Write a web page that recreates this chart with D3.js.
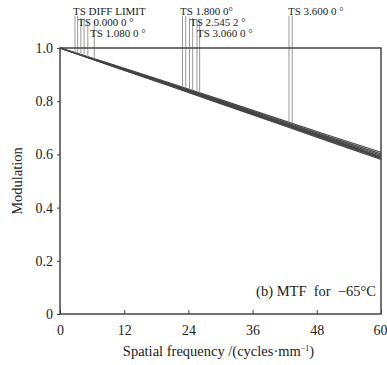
<!DOCTYPE html>
<html>
<head>
<meta charset="utf-8">
<script src="https://cdn.jsdelivr.net/npm/d3@7"></script>
<style>
  body { margin: 0; background: #fff; }
  svg { font-family: "Liberation Serif", "DejaVu Serif", serif; }
</style>
</head>
<body>
<div id="chart"></div>
<script>
// spatial frequency samples (cycles/mm)
const freqs = [0, 10, 20, 30, 40, 50, 60];

// modulation curves, tangential / sagittal per field
const diffLimit = [1.0, 0.937, 0.872, 0.806, 0.739, 0.673, 0.608];
const field0T   = [1.0, 0.935, 0.869, 0.802, 0.735, 0.668, 0.602];
const field1T   = [1.0, 0.934, 0.867, 0.800, 0.732, 0.664, 0.597];
const field1S   = [1.0, 0.933, 0.866, 0.798, 0.729, 0.660, 0.592];
const field2T   = [1.0, 0.932, 0.864, 0.795, 0.726, 0.657, 0.588];
const field2S   = [1.0, 0.931, 0.862, 0.793, 0.724, 0.654, 0.585];
const field3T   = [1.0, 0.933, 0.865, 0.797, 0.728, 0.659, 0.590];
const field4T   = [1.0, 0.930, 0.861, 0.791, 0.721, 0.651, 0.581];
const curves = [diffLimit, field0T, field1T, field1S, field2T, field2S, field3T, field4T];

// field labels and the frequencies where their marker lines drop
const labels = ["TS DIFF LIMIT", "TS 0.000 0 °", "TS 1.080 0 °", "TS 1.800 0°", "TS 2.545 2 °", "TS 3.060 0 °", "TS 3.600 0 °"];
const markerFreqs = [[2.8, 3.3], [3.9, 4.5], [5.2, 6.4], [22.9, 23.5], [24.2, 24.8], [25.6, 26.1], [42.8, 43.4]];
const labelRow = [0, 1, 2, 0, 1, 2, 0];

const xTicks = [0, 12, 24, 36, 48, 60];
const yTicks = [0, 0.2, 0.4, 0.6, 0.8, 1.0];

const width = 387, height = 365;
const margin = { top: 48, right: 6, bottom: 51, left: 60 };
const w = width - margin.left - margin.right;
const h = height - margin.top - margin.bottom;

const svg = d3.select('#chart').append('svg')
  .attr('width', width).attr('height', height);
const g = svg.append('g').attr('transform', `translate(${margin.left},${margin.top})`);

const x = d3.scaleLinear().domain([0, 60]).range([0, w]);
const y = d3.scaleLinear().domain([0, 1]).range([h, 0]);

// interpolate the diffraction curve to place marker lines on it
const modAt = d3.scaleLinear().domain(freqs).range(diffLimit);

// curves
const line = d3.line().x((d, i) => x(freqs[i])).y(d => y(d));
g.selectAll('.curve').data(curves).enter().append('path')
  .attr('fill', 'none')
  .attr('stroke', '#444')
  .attr('stroke-width', 1.2)
  .attr('d', line);

// marker lines from the labels down to the curves
labels.forEach((lab, i) => {
  const top = -32 + labelRow[i] * 2;
  markerFreqs[i].forEach(f => {
    g.append('line')
      .attr('x1', x(f)).attr('x2', x(f))
      .attr('y1', top).attr('y2', y(modAt(f)))
      .attr('stroke', '#999').attr('stroke-width', 1);
  });
});

// frame
g.append('rect').attr('width', w).attr('height', h)
  .attr('fill', 'none').attr('stroke', '#444').attr('stroke-width', 1.5);

// labels
const labelX = [13, 18, 30, 120, 130, 137, 228];
labels.forEach((lab, i) => {
  g.append('text')
    .attr('x', labelX[i])
    .attr('y', -33 + labelRow[i] * 11)
    .attr('font-size', 11)
    .attr('fill', '#222')
    .text(lab);
});

// axes
const xAxis = g.append('g').attr('transform', `translate(0,${h})`)
  .call(d3.axisBottom(x).tickValues(xTicks).tickSize(-4).tickPadding(11).tickFormat(d3.format('d')));
const yAxis = g.append('g')
  .call(d3.axisLeft(y).tickValues(yTicks).tickSize(3).tickPadding(4)
    .tickFormat(d => d === 0 ? '0' : d3.format('.1f')(d)));
[xAxis, yAxis].forEach(a => {
  a.select('.domain').remove();
  a.selectAll('line').attr('stroke', '#444');
  a.selectAll('text').attr('font-size', 14).attr('fill', '#222')
    .attr('font-family', '"Liberation Serif", serif');
});
xAxis.selectAll('.tick').filter(d => d === 60).select('text')
  .attr('text-anchor', 'end').attr('dx', 6);

// titles
svg.append('text')
  .attr('x', margin.left + w / 2 - 2).attr('y', 356)
  .attr('text-anchor', 'middle').attr('font-size', 14.5).attr('fill', '#222')
  .html('Spatial frequency /(cycles·mm<tspan dy="-5" font-size="8">−1</tspan><tspan dy="5">)</tspan>');

svg.append('text')
  .attr('transform', `translate(22,${margin.top + h / 2}) rotate(-90)`)
  .attr('text-anchor', 'middle').attr('font-size', 14.5).attr('fill', '#222')
  .text('Modulation');

g.append('text')
  .attr('x', w - 5).attr('y', h - 18)
  .attr('text-anchor', 'end').attr('font-size', 14.5).attr('fill', '#222')
  .attr('xml:space', 'preserve')
  .text('(b) MTF  for  −65°C');
</script>
</body>
</html>
